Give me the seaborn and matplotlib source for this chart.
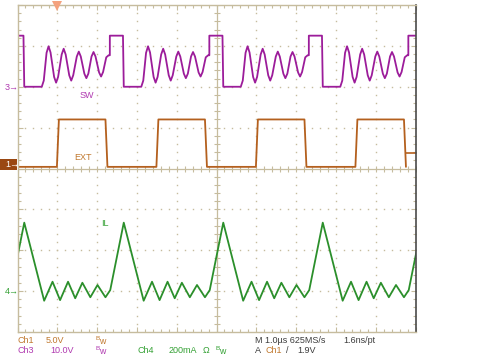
import numpy as np
import pandas as pd
import matplotlib
matplotlib.use("Agg")
import matplotlib.pyplot as plt
from matplotlib.patches import Rectangle
import seaborn as sns

# scope setup: 1 us/div, ch1 5 V/div, ch3 10 V/div, ch4 200 mA/div
ch1_scale, ch1_pos = 5.0, 0.0
ch3_scale, ch3_pos = 10.0, 2.0
ch4_scale, ch4_pos = 0.2, -3.0
trig_level = 1.9

# SW node (ch3), one cycle, t in us from the rising edge
sw_cycle_t = [0.00, 0.00, 0.33, 0.35, 0.79, 0.84, 0.91, 0.96, 1.01, 1.10, 1.15, 1.20, 1.29, 1.34,
              1.39, 1.48, 1.53, 1.58, 1.67, 1.72, 1.77, 1.86, 1.91, 1.96, 2.04, 2.09, 2.14, 2.23,
              2.28, 2.33, 2.41, 2.47]
sw_cycle_v = [7.7, 12.5, 12.5, 0.0, 0.0, 1.5, 8.3, 9.9, 8.4, 2.4, 1.0, 2.4, 7.9, 9.3,
              7.9, 2.8, 1.5, 2.8, 7.4, 8.6, 7.4, 3.2, 2.1, 3.2, 7.4, 8.5, 7.4, 3.5,
              2.5, 3.6, 7.2, 7.7]
sw_starts = [-0.18, 2.32, 4.82, 7.32, 9.82]

# EXT sync (ch1)
ext_cycle_t = [0.00, 0.05, 1.22, 1.27]
ext_cycle_v = [0.2, 6.0, 6.0, 0.2]
ext_starts = [-1.51, 0.99, 3.49, 5.99, 8.49]

# inductor current (ch4), A, cycle starts at the peak
il_cycle_t = [0.00, 0.50, 0.71, 0.90, 1.10, 1.28, 1.46, 1.66, 1.84, 2.04, 2.16]
il_cycle_a = [0.335, -0.047, 0.046, -0.044, 0.046, -0.035, 0.041, -0.030, 0.030, -0.030, 0.005]
il_starts = [-2.33, 0.17, 2.67, 5.17, 7.67, 10.17]

W, H = 504, 358
grid_col = "#c6bc9e"
c_sw = "#9c1c9a"
c_ext = "#b4601e"
c_il = "#2b8f2b"
c_ext_txt = "#c0782e"
c_sw_txt = "#b03ab0"
c_il_txt = "#33a033"


def px(x, y):
    return x / W, 1 - y / H


def trace(starts, ct, cv, pos, scale):
    t = np.concatenate([s + np.array(ct) for s in starts])
    v = np.concatenate([np.array(cv) for s in starts])
    return pd.DataFrame({"t": t, "div": pos + v / scale})


def bw(x, y, col):
    # the little raised "B" + "w" bandwidth-limit flag
    fig.text(*px(x, y - 2.5), "B", color=col, fontsize=4.6, va="center")
    fig.text(*px(x + 3.8, y + 0.5), "w", color=col, fontsize=6.3, va="center")


sns.set_style("white")
plt.rcParams["font.family"] = ["Liberation Sans", "DejaVu Sans"]

fig = plt.figure(figsize=(W / 100, H / 100), dpi=100)
x0, y0 = px(17.5, 332)
ax = fig.add_axes([x0, y0, 398 / W, 327 / H])
ax.set_xlim(0, 10)
ax.set_ylim(-4, 4)

# graticule dots
for gx in [1, 2, 3, 4, 6, 7, 8, 9]:
    yy = np.arange(-4, 4.01, 0.2)
    ax.plot(np.full_like(yy, gx), yy, ls="none", marker="s", ms=1.0, color=grid_col, mew=0)
for gy in [-3, -2, -1, 1, 2, 3]:
    xx = np.arange(0, 10.01, 0.2)
    ax.plot(xx, np.full_like(xx, gy), ls="none", marker="s", ms=1.0, color=grid_col, mew=0)

# centre cross with ticks
ax.axhline(0, color=grid_col, lw=0.9)
ax.axvline(5, color=grid_col, lw=0.9)
xx = np.arange(0, 10.01, 0.2)
ax.plot(xx, np.zeros_like(xx), ls="none", marker="|", ms=5, mew=0.8, color=grid_col)
yy = np.arange(-4, 4.01, 0.2)
ax.plot(np.full_like(yy, 5), yy, ls="none", marker="_", ms=5, mew=0.8, color=grid_col)

# border ticks
ax.set_xticks(range(0, 11))
ax.set_xticks(np.arange(0, 10.01, 0.2), minor=True)
ax.set_yticks(range(-4, 5))
ax.set_yticks(np.arange(-4, 4.01, 0.2), minor=True)
ax.tick_params(which="both", direction="in", top=True, right=True, bottom=True, left=True,
               labelbottom=False, labelleft=False, color=grid_col, width=0.8)
ax.tick_params(which="major", length=3.5)
ax.tick_params(which="minor", length=2)
for s in ["top", "left", "bottom"]:
    ax.spines[s].set_color(grid_col)
    ax.spines[s].set_linewidth(1)
ax.spines["right"].set_color("#4a4a4a")
ax.spines["right"].set_linewidth(1.2)

# waveforms
ext = trace(ext_starts, ext_cycle_t, ext_cycle_v, ch1_pos, ch1_scale)
sw = trace(sw_starts, sw_cycle_t, sw_cycle_v, ch3_pos, ch3_scale)
il = trace(il_starts, il_cycle_t, il_cycle_a, ch4_pos, ch4_scale)
sns.lineplot(data=ext, x="t", y="div", ax=ax, color=c_ext, lw=1.3, sort=False, estimator=None)
sns.lineplot(data=sw, x="t", y="div", ax=ax, color=c_sw, lw=1.3, sort=False, estimator=None)
sns.lineplot(data=il, x="t", y="div", ax=ax, color=c_il, lw=1.3, sort=False, estimator=None)
ax.set_xlabel("")
ax.set_ylabel("")

# trigger level marker at the right edge
tl = ch1_pos + trig_level / ch1_scale
ax.plot([9.75, 10], [tl, tl], color=c_ext, lw=1.2, clip_on=False)

# trigger position marker on top
fig.lines.append(plt.Line2D([57.3 / W], [1 - 5.5 / H], marker="v", ms=7, color="#f4a27e",
                            mew=0, transform=fig.transFigure))

# trace labels
fs = 6.5
fig.text(*px(87, 95), "SW", color=c_sw_txt, fontsize=fs, ha="center", va="center")
fig.text(*px(83, 157), "EXT", color=c_ext_txt, fontsize=fs, ha="center", va="center")
fig.text(*px(105, 224), "IL", color=c_il_txt, fontsize=fs, ha="center", va="center")

# ground markers on the left
fig.text(*px(5, 87), "3\u2192", color=c_sw_txt, fontsize=fs, va="center")
fig.text(*px(5, 291), "4\u2192", color=c_il_txt, fontsize=fs, va="center")
bx, by = px(0, 170)
fig.patches.append(Rectangle((bx, by), 17 / W, 11 / H, transform=fig.transFigure,
                             facecolor="#9a4812", edgecolor="none"))
fig.text(*px(5, 164.5), "1\u2192", color="white", fontsize=fs, va="center")

# status line
r1, r2 = 340.5, 350.5
dark = "#3c3c3c"
fig.text(*px(17, r1), "Ch1", color=c_ext_txt, fontsize=fs, va="center")
fig.text(*px(45.5, r1), "5.0V", color=c_ext_txt, fontsize=fs, va="center")
bw(95, r1, c_ext_txt)
fig.text(*px(255, r1), "M 1.0\u00b5s 625MS/s", color=dark, fontsize=fs, va="center")
fig.text(*px(343, r1), "1.6ns/pt", color=dark, fontsize=fs, va="center")

fig.text(*px(17, r2), "Ch3", color=c_sw_txt, fontsize=fs, va="center")
fig.text(*px(50, r2), "10.0V", color=c_sw_txt, fontsize=fs, va="center")
bw(95, r2, c_sw_txt)
fig.text(*px(137, r2), "Ch4", color=c_il_txt, fontsize=fs, va="center")
fig.text(*px(168.5, r2), "200mA", color=c_il_txt, fontsize=fs, va="center")
fig.text(*px(203, r2), "\u03a9", color=c_il_txt, fontsize=fs, va="center")
bw(215, r2, c_il_txt)
fig.text(*px(255, r2), "A", color=dark, fontsize=fs, va="center")
fig.text(*px(266, r2), "Ch1", color=c_ext_txt, fontsize=fs, va="center")
fig.text(*px(286, r2), "/", color=dark, fontsize=fs, va="center")
fig.text(*px(297, r2), "1.9V", color=dark, fontsize=fs, va="center")

fig.savefig("out.png", dpi=100)
